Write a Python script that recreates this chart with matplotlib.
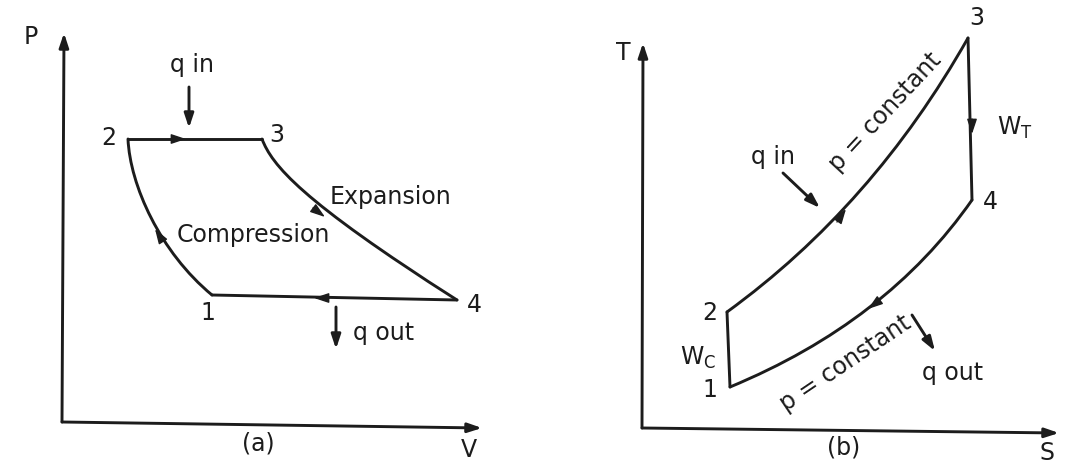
import matplotlib
matplotlib.use("Agg")
import matplotlib.pyplot as plt
from matplotlib.path import Path
from matplotlib.patches import PathPatch

# coordinates are in image pixels (x right, y down); the scan is tilted a little
# (a) P-V diagram
pv_axes_origin = (62, 422)
pv_axes_ends = [(64, 33), (482, 428)]
pv_states = {"1": (212, 295), "2": (128, 139), "3": (262, 139), "4": (457, 300)}
pv_compression_ctrl = [(130, 185), (160, 252)]
pv_expansion_ctrl = [(272, 165), (300, 200)]
pv_flow_arrows = [((172, 139), (186, 139)), ((313, 208), (325, 217)),
                  ((162, 240), (155, 229)), ((329, 298), (314, 298))]
pv_heat_arrows = [((189, 87), (189, 128)), ((336, 307), (336, 349))]
pv_state_labels = {"1": (208, 313), "2": (109, 138), "3": (277, 135), "4": (474, 305)}
pv_texts = [("q in", (192, 65)), ("Expansion", (391, 197)), ("Compression", (253, 235)),
            ("q out", (384, 333)), ("(a)", (258, 443)), ("V", (469, 450)), ("P", (31, 37))]

# (b) T-S diagram
ts_axes_origin = (642, 428)
ts_axes_ends = [(643, 43), (1059, 433)]
ts_states = {"1": (730, 387), "2": (727, 312), "3": (968, 38), "4": (972, 200)}
ts_heat_in_ctrl = [(873, 206)]
ts_heat_out_ctrl = [(887, 322)]
ts_flow_arrows = [((837, 222), (846, 209)), ((972, 119), (972, 134)),
                  ((880, 300), (868, 309))]
ts_heat_arrows = [((783, 173), (820, 208)), ((912, 315), (935, 351))]
ts_state_labels = {"1": (710, 390), "2": (710, 313), "3": (977, 18), "4": (990, 202)}
ts_texts = [("q in", (773, 157)), ("q out", (953, 373)), ("(b)", (844, 448)),
            ("S", (1047, 453)), ("T", (623, 53)),
            (r"$\mathrm{W_T}$", (1015, 128)), (r"$\mathrm{W_C}$", (698, 358))]
ts_rotated = [("p = constant", (885, 112), 47), ("p = constant", (846, 363), 34)]

ink = "#1c1c1c"
lw = 2.1
fs = 17
head = "-|>,head_length=0.6,head_width=0.2"

plt.rcParams["font.family"] = "DejaVu Sans"
plt.rcParams["mathtext.fontset"] = "dejavusans"

fig = plt.figure(figsize=(10.66, 4.76), dpi=100)
ax = fig.add_axes([0, 0, 1, 1])
ax.set_xlim(0, 1066)
ax.set_ylim(476, 0)
ax.axis("off")


def arrow(a, b, line=True):
    ax.annotate("", xy=b, xytext=a,
                arrowprops=dict(arrowstyle=head, color=ink,
                                lw=lw if line else 1.0,
                                mutation_scale=14 if line else 15,
                                shrinkA=0, shrinkB=0))


def curve(p0, ctrl, p1):
    code = Path.CURVE4 if len(ctrl) == 2 else Path.CURVE3
    path = Path([p0] + ctrl + [p1], [Path.MOVETO] + [code] * (len(ctrl) + 1))
    ax.add_patch(PathPatch(path, fill=False, edgecolor=ink, lw=lw, capstyle="round"))


def seg(p0, p1):
    ax.plot([p0[0], p1[0]], [p0[1], p1[1]], color=ink, lw=lw, solid_capstyle="round")


# axes
for origin, ends in [(pv_axes_origin, pv_axes_ends), (ts_axes_origin, ts_axes_ends)]:
    for e in ends:
        arrow(origin, e)

# P-V cycle
s = pv_states
seg(s["2"], s["3"])
seg(s["1"], s["4"])
curve(s["2"], pv_compression_ctrl, s["1"])
curve(s["3"], pv_expansion_ctrl, s["4"])
for a, b in pv_flow_arrows:
    arrow(a, b, line=False)
for a, b in pv_heat_arrows:
    arrow(a, b)

# T-S cycle
s = ts_states
seg(s["1"], s["2"])
seg(s["3"], s["4"])
curve(s["2"], ts_heat_in_ctrl, s["3"])
curve(s["1"], ts_heat_out_ctrl, s["4"])
for a, b in ts_flow_arrows:
    arrow(a, b, line=False)
for a, b in ts_heat_arrows:
    arrow(a, b)

for labels in (pv_state_labels, ts_state_labels):
    for k, (x, y) in labels.items():
        ax.text(x, y, k, fontsize=fs, color=ink, ha="center", va="center")

for t, (x, y) in pv_texts + ts_texts:
    ax.text(x, y, t, fontsize=fs, color=ink, ha="center", va="center")

for t, (x, y), rot in ts_rotated:
    ax.text(x, y, t, fontsize=fs, color=ink, ha="center", va="center",
            rotation=rot, rotation_mode="anchor")

fig.savefig("out.png", dpi=100, facecolor="white")
